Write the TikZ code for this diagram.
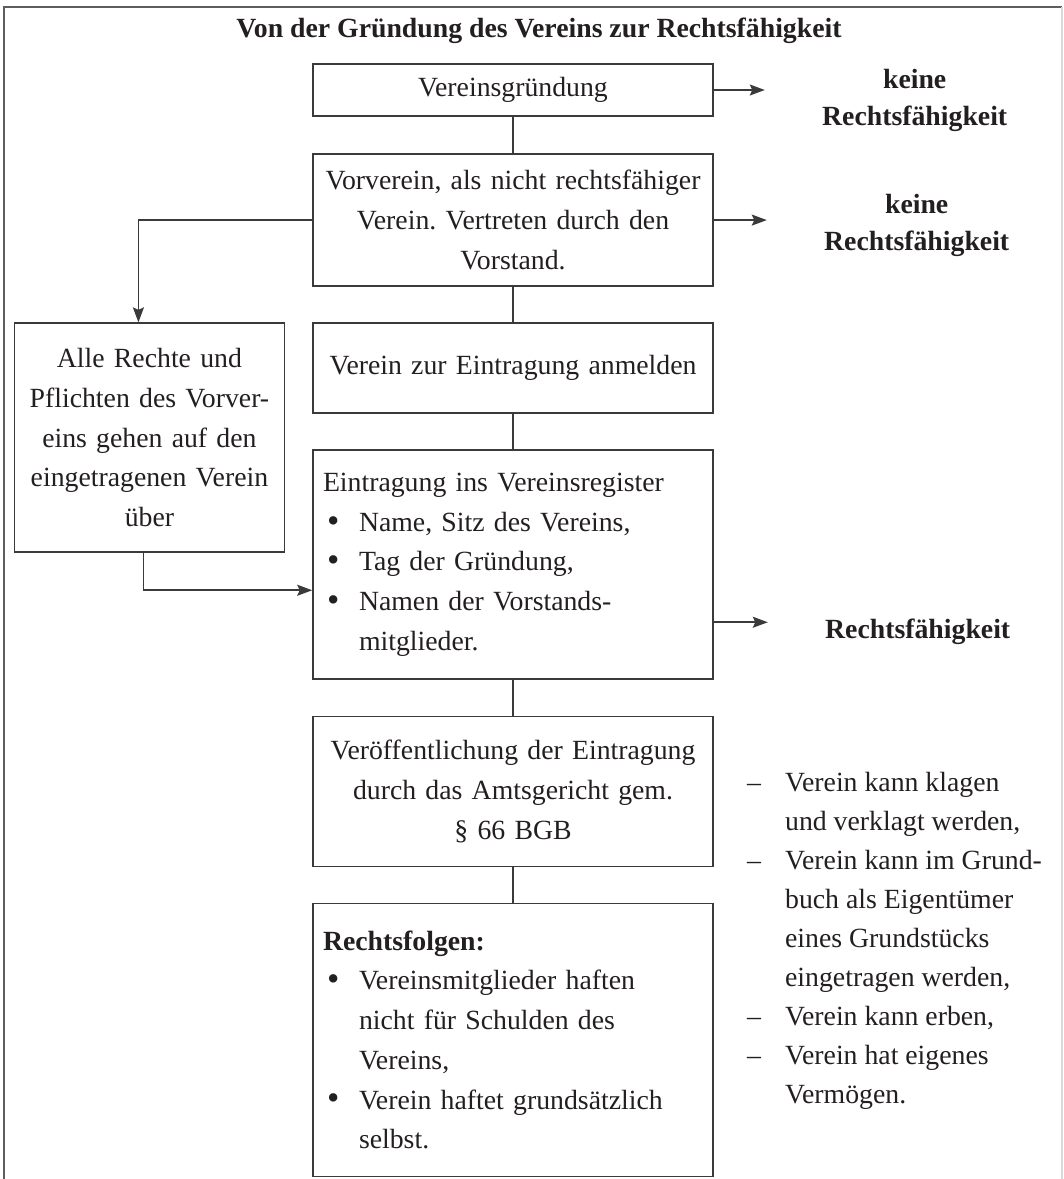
\documentclass[tikz,border=0pt]{standalone}
\usepackage{fontspec}
\setmainfont{Liberation Serif}
\usepackage{xcolor}
\usepackage{tikz}
\usetikzlibrary{positioning,arrows.meta}

\definecolor{inkgray}{HTML}{3A3A3A}
\definecolor{framegray}{HTML}{5E5E5E}
\definecolor{textblack}{HTML}{231F20}

\newcommand{\blt}{\makebox[0.72cm][l]{\hspace{0.08cm}\raisebox{-0.5pt}{\fontsize{20}{20}\selectfont\textbullet}}}
\newcommand{\bltind}{\hspace*{0.72cm}}
\newcommand{\dsh}{\makebox[0.76cm][l]{–}}
\newcommand{\dshind}{\hspace*{0.76cm}}

\frenchspacing
\begin{document}
\begin{tikzpicture}[
  box/.style={draw=inkgray, line width=0.9pt, text width=7.6cm, inner sep=0.2cm,
              font=\fontsize{15.8}{22.6}\selectfont, text=textblack},
  cbox/.style={box, align=center},
  lbox/.style={box, align=left},
  res/.style={font=\fontsize{15.8}{21}\selectfont\bfseries, align=center,
              text=textblack, inner sep=0pt},
  arr/.style={-{Stealth[length=3mm,width=2.2mm,inset=0.5mm]}, line width=0.9pt, draw=inkgray},
  link/.style={line width=0.9pt, draw=inkgray},
  node distance=0.71cm
]
\useasboundingbox (0,0) rectangle (21.26,-23.58);

%% Outer frame and title
\draw[framegray, line width=1.2pt] (0.08,-23.7) -- (0.08,-0.14) -- (21.24,-0.14);
\draw[black!15, line width=0.8pt] (21.24,-0.14) -- (21.24,-23.7);
\node[font=\fontsize{15.8}{20}\selectfont\bfseries, text=textblack] (ntitle) at (10.78,-0.62)
  {Von der Gründung des Vereins zur Rechtsfähigkeit};

%% Main chain (centre column)
\node[cbox, minimum height=1.04cm] (nfound) at (10.26,-1.8) {Vereinsgründung};
\node[cbox, minimum height=2.64cm, below=0.73cm of nfound] (nvor)
  {Vorverein, als nicht rechtsfähiger\\Verein. Vertreten durch den\\Vorstand.};
\node[cbox, minimum height=1.8cm, below=of nvor] (nanm) {Verein zur Eintragung anmelden};
\node[lbox, minimum height=4.58cm, below=of nanm] (nein)
  {Eintragung ins Vereinsregister\\\blt Name, Sitz des Vereins,\\\blt Tag der Gründung,\\
   \blt Namen der Vorstands-\\\bltind mitglieder.};
\node[cbox, minimum height=3cm, below=of nein] (nveroe)
  {Veröffentlichung der Eintragung\\durch das Amtsgericht gem.\\§~66 BGB};
\node[lbox, minimum height=5.46cm, below=of nveroe] (nfolg)
  {\textbf{Rechtsfolgen:}\\\blt Vereinsmitglieder haften\\\bltind nicht für Schulden des\\
   \bltind Vereins,\\\blt Verein haftet grundsätzlich\\\bltind selbst.};

\draw[link] (nfound) -- (nvor);
\draw[link] (nvor) -- (nanm);
\draw[link] (nanm) -- (nein);
\draw[link] (nein) -- (nveroe);
\draw[link] (nveroe) -- (nfolg);

%% Left branch: Vorverein -> eingetragener Verein
\node[cbox, text width=5cm, minimum height=4.58cm, left=0.54cm of nanm.north west,
      anchor=north east] (nueber)
  {Alle Rechte und\\Pflichten des Vorver-\\eins gehen auf den\\eingetragenen Verein\\über};
\draw[arr] (nvor.west) -| ([xshift=-0.22cm]nueber.north);
\draw[arr] ([xshift=-0.12cm]nueber.south) |- ([yshift=-0.51cm]nein.west);

%% Results on the right
\node[res, right=2.16cm of nfound.east, yshift=-0.2cm] (nkr1) {keine\\Rechtsfähigkeit};
\node[res, right=2.2cm of nvor.east, yshift=-0.1cm] (nkr2) {keine\\Rechtsfähigkeit};
\node[res, right=2.22cm of nein.east, yshift=-1.34cm] (nkr3) {Rechtsfähigkeit};
\coordinate (nrk) at ([yshift=-1.15cm]nein.east);

\draw[arr, shorten >=1.14cm] (nfound.east) -- (nfound.east -| nkr1.west);
\draw[arr, shorten >=1.14cm] (nvor.east) -- (nvor.east -| nkr2.west);
\draw[arr, shorten >=1.14cm] (nrk) -- (nrk -| nkr3.west);

%% Consequences list
\node[font=\fontsize{15.8}{22.2}\selectfont, text=textblack, align=left, inner sep=0pt,
      below right=1.12cm and 0.66cm of nveroe.north east] (nlist)
  {\dsh Verein kann klagen\\\dshind und verklagt werden,\\\dsh Verein kann im Grund-\\
   \dshind buch als Eigentümer\\\dshind eines Grundstücks\\\dshind eingetragen werden,\\
   \dsh Verein kann erben,\\\dsh Verein hat eigenes\\\dshind Vermögen.};
\end{tikzpicture}
\end{document}
